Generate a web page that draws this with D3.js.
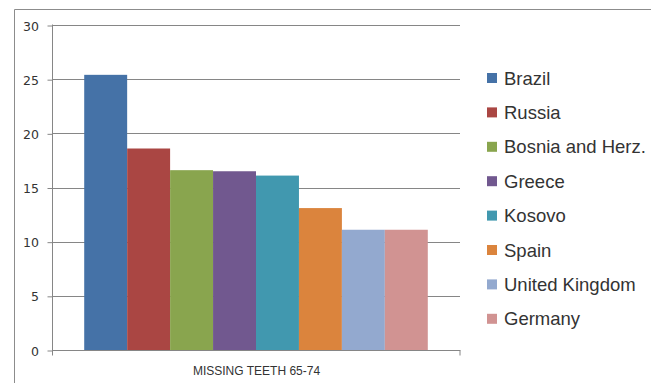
<!DOCTYPE html>
<html>
<head>
<meta charset="utf-8">
<script src="https://cdn.jsdelivr.net/npm/d3@7"></script>
<style>
  html, body { margin: 0; padding: 0; background: #fff; }
  svg { display: block; }
</style>
</head>
<body>
<svg id="chart" width="651" height="383"></svg>
<script>
const categories = ["MISSING TEETH 65-74"];
const countries = ["Brazil", "Russia", "Bosnia and Herz.", "Greece", "Kosovo", "Spain", "United Kingdom", "Germany"];
const values = [25.4, 18.6, 16.6, 16.5, 16.1, 13.1, 11.1, 11.1];
const colors = ["#4572A7", "#AA4643", "#89A54E", "#71588F", "#4198AF", "#DB843D", "#93A9CF", "#D19392"];
const yTicks = [0, 5, 10, 15, 20, 25, 30];

const svg = d3.select("#chart");
const plot = { left: 52, right: 460, top: 25, bottom: 350 };

// outer border (top and left visible)
svg.append("path")
  .attr("d", `M14.5,383 L14.5,9.5 L651,9.5`)
  .attr("fill", "none").attr("stroke", "#8c8c8c").attr("stroke-width", 1);

const y = d3.scaleLinear().domain([0, 30]).range([plot.bottom, plot.top]);
const x0 = d3.scaleBand().domain(categories).range([plot.left, plot.right]).paddingInner(0).paddingOuter(0);
const catW = x0.bandwidth();
const groupW = catW / (1 + 1.5 / countries.length);
const x1 = d3.scaleBand().domain(countries)
  .range([x0(categories[0]) + (catW - groupW) / 2, x0(categories[0]) + (catW + groupW) / 2]);

// gridlines
svg.append("g").selectAll("line").data(yTicks.filter(d => d > 0)).join("line")
  .attr("x1", plot.left).attr("x2", plot.right)
  .attr("y1", d => Math.round(y(d)) + 0.5).attr("y2", d => Math.round(y(d)) + 0.5)
  .attr("stroke", "#868686").attr("stroke-width", 1);

// bars
svg.append("g").selectAll("rect").data(countries).join("rect")
  .attr("x", d => x1(d))
  .attr("width", x1.bandwidth())
  .attr("y", (d, i) => y(values[i]))
  .attr("height", (d, i) => plot.bottom - y(values[i]))
  .attr("fill", (d, i) => colors[i]);

// y axis
const yAxis = d3.axisLeft(y).tickValues(yTicks).tickSize(5).tickPadding(8).tickFormat(d3.format("d"));
const gy = svg.append("g").attr("transform", `translate(${plot.left + 0.5},0)`).call(yAxis);
gy.select(".domain").attr("stroke", "#868686").attr("d", `M0,${plot.top - 0.5}V${plot.bottom + 5}`);
gy.selectAll(".tick line").attr("stroke", "#868686").attr("transform", "translate(0,0.5)");
gy.selectAll(".tick text")
  .attr("fill", "#333").attr("font-family", "DejaVu Sans, Verdana, sans-serif").attr("font-size", "12.5px")
  .attr("dy", "0.4em").attr("x", -13.5);

// x axis
const gx = svg.append("g").attr("transform", `translate(0,${plot.bottom + 0.5})`);
gx.append("line").attr("x1", plot.left).attr("x2", plot.right + 0.5).attr("stroke", "#868686");
gx.selectAll("line.tk").data([plot.left + 0.5, plot.right]).join("line").attr("class", "tk")
  .attr("x1", d => d).attr("x2", d => d).attr("y1", 0).attr("y2", 5).attr("stroke", "#868686");
gx.selectAll("text").data(categories).join("text")
  .attr("x", d => x0(d) + catW / 2 + 0.5).attr("y", 24)
  .attr("text-anchor", "middle")
  .attr("font-family", "Liberation Sans, Arial, sans-serif").attr("font-size", "12px")
  .attr("fill", "#333").text(d => d);

// legend
const lg = svg.append("g").selectAll("g").data(countries).join("g")
  .attr("transform", (d, i) => `translate(487,${78 + i * 34.4})`);
lg.append("rect").attr("x", 0).attr("y", -5).attr("width", 10).attr("height", 10)
  .attr("fill", (d, i) => colors[i]);
lg.append("text").attr("x", 17).attr("y", 6.5)
  .attr("font-family", "Liberation Sans, Arial, sans-serif").attr("font-size", "18.5px")
  .attr("fill", "#333").text(d => d);
</script>
</body>
</html>
